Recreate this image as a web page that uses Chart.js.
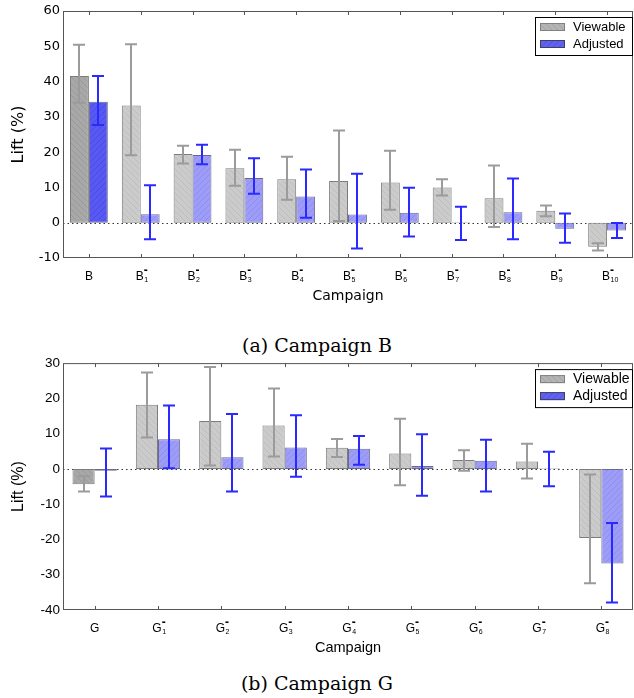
<!DOCTYPE html>
<html><head><meta charset="utf-8">
<script src="https://cdn.jsdelivr.net/npm/chart.js@4/dist/chart.umd.min.js"></script>
<style>
html,body{margin:0;padding:0;background:#fff;}
body{width:634px;height:698px;position:relative;overflow:hidden;}
canvas{position:absolute;left:0;}
#c1{top:0}
#c2{top:352px}
.cap{position:absolute;left:0;width:634px;text-align:center;font-family:"DejaVu Serif",serif;font-size:19px;color:#000;line-height:22px;}
</style></head><body>
<canvas id="c1" width="634" height="310"></canvas>
<div class="cap" style="top:334px">(a) Campaign B</div>
<canvas id="c2" width="634" height="310"></canvas>
<div class="cap" style="top:672px">(b) Campaign G</div>
<script>
// ---------- Campaign B ----------
const catsB = ['B','B_1','B_2','B_3','B_4','B_5','B_6','B_7','B_8','B_9','B_10'];
const viewB   = [41.6, 33.2, 19.5, 15.4, 12.3, 11.8, 11.4, 10.0, 6.9, 3.4, -6.8];
const viewBLo = [34.0, 19.1, 16.8, 10.5, 6.5, 0.5, 3.7, 7.7, -1.2, 1.8, -7.9];
const viewBHi = [50.4, 50.6, 21.8, 20.7, 18.7, 26.1, 20.4, 12.3, 16.2, 4.9, -5.8];
const adjB    = [34.3, 2.4, 19.2, 12.7, 7.4, 2.3, 2.8, 0.1, 3.0, -1.7, -2.2];
const adjBLo  = [27.7, -4.7, 16.6, 8.2, 1.4, -7.3, -3.9, -4.9, -4.7, -5.7, -4.3];
const adjBHi  = [41.6, 10.6, 22.1, 18.3, 15.1, 13.9, 9.9, 4.5, 12.5, 2.6, -0.1];
const yTicksB = [-10, 0, 10, 20, 30, 40, 50, 60];

// ---------- Campaign G ----------
const catsG = ['G','G_1','G_2','G_3','G_4','G_5','G_6','G_7','G_8'];
const viewG   = [-4.35, 18.2, 13.6, 12.3, 6.0, 4.4, 2.5, 2.1, -19.6];
const viewGLo = [-6.4, 8.9, 1.0, 3.5, 3.4, -4.6, -0.5, -2.7, -32.4];
const viewGHi = [-2.1, 27.3, 28.9, 22.8, 8.5, 14.2, 5.3, 7.1, -1.6];
const adjG    = [-0.5, 8.4, 3.3, 6.1, 5.7, 0.85, 2.3, 0.1, -26.8];
const adjGLo  = [-7.8, 0.2, -6.4, -2.2, 1.2, -7.6, -6.4, -4.9, -37.9];
const adjGHi  = [5.8, 18.0, 15.6, 15.2, 9.3, 9.8, 8.3, 4.9, -15.3];
const yTicksG = [-40, -30, -20, -10, 0, 10, 20, 30];

const seriesNames = ['Viewable', 'Adjusted'];

function hatch(bg, fg, dir){
  const s = 6;
  const c = document.createElement('canvas'); c.width = s; c.height = s;
  const x = c.getContext('2d');
  x.fillStyle = bg; x.fillRect(0,0,s,s);
  x.strokeStyle = fg; x.lineWidth = 1;
  x.beginPath();
  if (dir > 0) { // '/'
    x.moveTo(0,s); x.lineTo(s,0);
    x.moveTo(-1,1); x.lineTo(1,-1);
    x.moveTo(s-1,s+1); x.lineTo(s+1,s-1);
  } else {       // '\'
    x.moveTo(0,0); x.lineTo(s,s);
    x.moveTo(-1,s-1); x.lineTo(1,s+1);
    x.moveTo(s-1,-1); x.lineTo(s+1,1);
  }
  x.stroke();
  return x.createPattern(c, 'repeat');
}
const grayDark  = hatch('#a8a8a8', '#9a9a9a', -1);
const grayLight = hatch('#cbcbcb', '#bebebe', -1);
const blueDark  = hatch('#5858f2', '#4a4ae4', 1);
const blueLight = hatch('#9d9df7', '#8e8ef0', 1);
const grayLeg   = hatch('#b4b4b4', '#a2a2a2', -1);
const blueLeg   = hatch('#6262f2', '#5252e6', 1);

function makeChart(id, cats, v, vLo, vHi, a, aLo, aHi, yTicks, opt){
  const n = cats.length;
  const errs = [[vLo, vHi, '#9b9b9b'], [aLo, aHi, '#2a2aff']];
  const plugin = {
    id: 'custom_' + id,
    beforeDatasetsDraw(chart){
      const ctx = chart.ctx, ca = chart.chartArea, ys = chart.scales.y;
      const y0 = Math.round(ys.getPixelForValue(0)) + 0.5;
      ctx.save();
      ctx.strokeStyle = '#333'; ctx.lineWidth = 1; ctx.setLineDash([1.5, 3]);
      ctx.beginPath(); ctx.moveTo(ca.left, y0); ctx.lineTo(ca.right, y0); ctx.stroke();
      ctx.restore();
    },
    afterDatasetsDraw(chart){
      const ctx = chart.ctx, ys = chart.scales.y;
      ctx.save();
      errs.forEach((e, di) => {
        const meta = chart.getDatasetMeta(di);
        ctx.strokeStyle = e[2]; ctx.lineWidth = 2;
        meta.data.forEach((el, i) => {
          const x = Math.round(el.x);
          const yl = ys.getPixelForValue(e[0][i]);
          const yh = ys.getPixelForValue(e[1][i]);
          ctx.beginPath();
          ctx.moveTo(x, yl); ctx.lineTo(x, yh);
          ctx.moveTo(x - 6, yl); ctx.lineTo(x + 6, yl);
          ctx.moveTo(x - 6, yh); ctx.lineTo(x + 6, yh);
          ctx.stroke();
        });
      });
      ctx.restore();
    },
    afterDraw(chart){
      const ctx = chart.ctx, ca = chart.chartArea, xs = chart.scales.x;
      ctx.save();
      // frame
      ctx.strokeStyle = '#555'; ctx.lineWidth = 1;
      ctx.strokeRect(ca.left + 0.5, ca.top + 0.5, ca.right - ca.left - 1, ca.bottom - ca.top - 1);
      // category tick marks (inside, top and bottom)
      ctx.beginPath();
      for (let i = 0; i < n; i++) {
        const x = Math.round(xs.getPixelForValue(i)) + 0.5;
        ctx.moveTo(x, ca.top); ctx.lineTo(x, ca.top + 4);
        ctx.moveTo(x, ca.bottom); ctx.lineTo(x, ca.bottom - 4);
      }
      ctx.stroke();
      // category labels with sub/superscripts
      ctx.fillStyle = '#000';
      ctx.textBaseline = 'alphabetic';
      const by = ca.bottom + 22;
      for (let i = 0; i < n; i++) {
        const x = xs.getPixelForValue(i);
        const parts = cats[i].split('_');
        ctx.font = '12px "Liberation Sans", Arial, sans-serif';
        const w = ctx.measureText(parts[0]).width;
        if (parts.length === 1) {
          ctx.textAlign = 'center';
          ctx.fillText(parts[0], x, by);
        } else {
          ctx.textAlign = 'left';
          const bx = x - w / 2 - 1;
          ctx.fillText(parts[0], bx, by);
          ctx.font = '7px "Liberation Sans", Arial, sans-serif';
          ctx.fillText(parts[1], bx + w + 0.5, by + 2);
          ctx.font = 'bold 12px "Liberation Sans", Arial, sans-serif';
          ctx.fillText('-', bx + w, by - 6);
        }
      }
      // legend
      const lw = 98, lh = 39;
      const lx = ca.right - lw, ly = ca.top + 6;
      ctx.fillStyle = '#fff';
      ctx.fillRect(lx, ly, lw, lh);
      ctx.strokeStyle = '#000'; ctx.lineWidth = 1;
      ctx.strokeRect(lx + 0.5, ly + 0.5, lw - 1, lh - 1);
      const sw = [grayLeg, blueLeg];
      const sb = ['#808080', '#404060'];
      ctx.save();
      ctx.beginPath(); ctx.rect(lx, ly, lw - 2, lh); ctx.clip();
      for (let k = 0; k < 2; k++) {
        const sy = ly + 6 + k * 17;
        ctx.fillStyle = sw[k];
        ctx.fillRect(lx + 5, sy, 25, 8);
        ctx.strokeStyle = sb[k];
        ctx.strokeRect(lx + 5.5, sy + 0.5, 24, 7);
        ctx.fillStyle = '#000';
        ctx.font = opt.legendFont;
        ctx.textAlign = 'left'; ctx.textBaseline = 'middle';
        ctx.fillText(seriesNames[k], lx + 38, sy + 4.5);
      }
      ctx.restore();
      ctx.restore();
    }
  };

  const bgV = cats.map((c, i) => i === 0 ? grayDark : grayLight);
  const bgA = cats.map((c, i) => i === 0 ? blueDark : blueLight);

  return new Chart(document.getElementById(id), {
    type: 'bar',
    data: {
      labels: cats,
      datasets: [
        { label: seriesNames[0], data: v, backgroundColor: bgV, borderColor: '#7c7c7c', borderWidth: 1, borderSkipped: false,
          categoryPercentage: opt.catPct, barPercentage: 1 },
        { label: seriesNames[1], data: a, backgroundColor: bgA, borderColor: '#6a6a8a', borderWidth: 1, borderSkipped: false,
          categoryPercentage: opt.catPct, barPercentage: 1 }
      ]
    },
    options: {
      responsive: false,
      animation: false,
      devicePixelRatio: 1,
      layout: { padding: { top: 11, right: 1, left: 0, bottom: 0 } },
      plugins: { legend: { display: false }, tooltip: { enabled: false } },
      scales: {
        x: {
          grid: { display: false, drawTicks: false },
          border: { display: false },
          ticks: { display: false },
          title: { display: true, text: 'Campaign', color: '#000',
                   font: { family: opt.xTitleFamily, size: opt.xTitleSize }, padding: { top: 0, bottom: 5 } },
          afterFit(s){ s.height = 52; }
        },
        y: {
          min: yTicks[0], max: yTicks[yTicks.length - 1],
          afterBuildTicks(s){ s.ticks = yTicks.map(t => ({ value: t })); },
          grid: { display: false, drawTicks: false },
          border: { display: false },
          ticks: { color: '#000', padding: 3, font: { family: opt.tickFamily, size: opt.tickSize } },
          title: { display: true, text: 'Lift (%)', color: '#000',
                   font: { family: opt.yTitleFamily, size: 16 }, padding: { top: 9, bottom: 0 } },
          afterFit(s){ s.width = 63; }
        }
      }
    },
    plugins: [plugin]
  });
}

makeChart('c1', catsB, viewB, viewBLo, viewBHi, adjB, adjBLo, adjBHi, yTicksB, {
  catPct: 0.73, tickFamily: '"DejaVu Sans", sans-serif', tickSize: 13,
  xTitleFamily: '"DejaVu Sans", sans-serif', xTitleSize: 14,
  yTitleFamily: '"DejaVu Sans", sans-serif',
  legendFont: '13px "Liberation Sans", Arial, sans-serif'
});
makeChart('c2', catsG, viewG, viewGLo, viewGHi, adjG, adjGLo, adjGHi, yTicksG, {
  catPct: 0.70, tickFamily: '"Liberation Sans", Arial, sans-serif', tickSize: 13.5,
  xTitleFamily: '"Liberation Sans", Arial, sans-serif', xTitleSize: 14.5,
  yTitleFamily: '"Liberation Sans", Arial, sans-serif',
  legendFont: '14px "Liberation Sans", Arial, sans-serif'
});
</script>
</body></html>
